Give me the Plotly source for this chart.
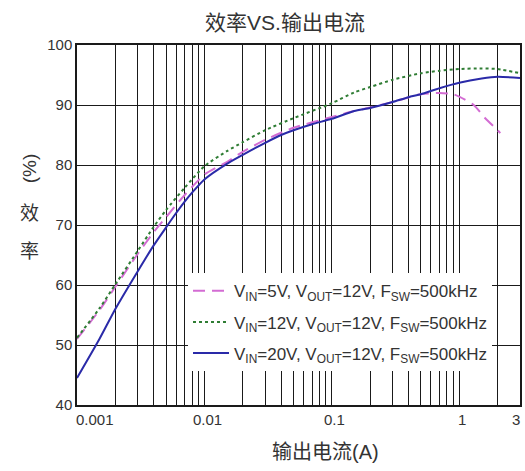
import plotly.graph_objects as go
import math

# ---- data ----
i_20v = [0.001, 0.0015, 0.002, 0.003, 0.004, 0.005, 0.006, 0.007, 0.008, 0.01, 0.015, 0.02, 0.03, 0.04,
         0.05, 0.07, 0.1, 0.15, 0.2, 0.3, 0.4, 0.5, 0.7, 1.0, 1.5, 2.0, 3.0]
eff_20v = [44.5, 51.0, 56.0, 62.3, 66.6, 69.6, 72.0, 73.9, 75.4, 77.6, 80.2, 81.7, 83.7, 85.0,
           85.8, 86.8, 87.7, 89.0, 89.5, 90.5, 91.3, 91.8, 92.8, 93.7, 94.4, 94.7, 94.5]

i_12v = [0.001, 0.0015, 0.002, 0.003, 0.004, 0.005, 0.007, 0.01, 0.015, 0.02, 0.03, 0.05, 0.1,
         0.15, 0.2, 0.3, 0.5, 0.7, 1.0, 1.5, 2.0, 3.0]
eff_12v = [51.2, 56.1, 60.1, 65.7, 69.7, 72.5, 76.2, 79.8, 82.3, 83.8, 85.8, 87.8, 90.3,
           92.1, 93.0, 94.2, 95.3, 95.7, 96.0, 96.1, 96.0, 95.3]

i_5v = [0.001, 0.0015, 0.002, 0.003, 0.004, 0.005, 0.007, 0.01, 0.015, 0.02, 0.03, 0.05, 0.1, 0.15, 0.2,
        0.3, 0.5, 0.7, 0.9, 1.0, 1.3, 1.6, 2.0, 2.1]
eff_5v = [51.0, 55.8, 59.7, 65.2, 68.8, 71.3, 75.0, 78.4, 80.5, 82.2, 84.2, 86.2, 88.0, 89.0, 89.6,
          90.5, 91.8, 92.0, 91.8, 91.4, 90.0, 87.8, 85.8, 85.3]

names = ["V<sub>IN</sub>=5V, V<sub>OUT</sub>=12V, F<sub>SW</sub>=500kHz",
         "V<sub>IN</sub>=12V, V<sub>OUT</sub>=12V, F<sub>SW</sub>=500kHz",
         "V<sub>IN</sub>=20V, V<sub>OUT</sub>=12V, F<sub>SW</sub>=500kHz"]

x_tick_vals = [0.001, 0.01, 0.1, 1, 3]
x_tick_text = ["0.001", "0.01", "0.1", "1", "3"]
y_tick_vals = [40, 50, 60, 70, 80, 90, 100]

title_text = "效率VS.输出电流"
x_title = "输出电流(A)"
y_title_parts = ["(%)", "效", "率"]

# ---- figure ----
FONT = "Liberation Sans, Arial, Noto Sans CJK SC, sans-serif"
fig = go.Figure()

fig.add_trace(go.Scatter(x=i_5v, y=eff_5v, mode="lines", name=names[0], legendgroup="a",
                         line=dict(color="#d36cd3", width=2, dash="12px,7px", shape="spline", smoothing=0.6)))
fig.add_trace(go.Scatter(x=i_12v, y=eff_12v, mode="lines", name=names[1], legendgroup="b",
                         line=dict(color="#2f7d34", width=2, dash="3px,3px", shape="spline", smoothing=0.6)))
fig.add_trace(go.Scatter(x=i_20v, y=eff_20v, mode="lines", name=names[2], legendgroup="c",
                         line=dict(color="#2a2aa8", width=2, shape="spline", smoothing=0.6)))

# vertical grid values: 1..9 of each decade
grid_x = []
for d in range(-3, 1):
    for m in range(1, 10):
        v = m * 10 ** d
        if v <= 3.0001:
            grid_x.append(v)

fig.update_xaxes(type="log", range=[math.log10(0.001), math.log10(3)],
                 tickvals=grid_x, showticklabels=False, ticks="",
                 showgrid=True, gridcolor="#1a1a1a", gridwidth=1.3,
                 showline=True, linecolor="#1a1a1a", linewidth=1.5, mirror=True, zeroline=False)
fig.update_yaxes(range=[40, 100], tickvals=y_tick_vals, ticks="",
                 showgrid=True, gridcolor="#1a1a1a", gridwidth=1.3,
                 showline=True, linecolor="#1a1a1a", linewidth=1.5, mirror=True, zeroline=False,
                 tickfont=dict(family=FONT, size=15, color="#333333"), automargin=False)

annotations = []
for v, t in zip(x_tick_vals, x_tick_text):
    anchor = "center"
    if v == x_tick_vals[0]:
        anchor = "left"
    elif v == x_tick_vals[-1]:
        anchor = "right"
    annotations.append(dict(x=math.log10(v), y=0, xref="x", yref="paper", text=t, showarrow=False,
                            xanchor=anchor, yanchor="top", yshift=-4,
                            xshift=(-3 if anchor == "left" else (2 if anchor == "right" else 3)),
                            font=dict(family=FONT, size=15, color="#333333")))

annotations.append(dict(x=0.562, y=-0.13, xref="paper", yref="paper", text=x_title, showarrow=False,
                        xanchor="center", yanchor="middle",
                        font=dict(family=FONT, size=20, color="#333333")))
y_pos = [0.658, 0.533, 0.425]
for txt, yp in zip(y_title_parts, y_pos):
    annotations.append(dict(x=-0.108, y=yp, xref="paper", yref="paper", text=txt, showarrow=False,
                            xanchor="center", yanchor="middle",
                            textangle=(-90 if txt == "(%)" else 0),
                            font=dict(family=FONT, size=19, color="#333333")))

fig.update_layout(
    width=525, height=471,
    margin=dict(l=77, r=5, t=45, b=66),
    paper_bgcolor="white", plot_bgcolor="white",
    title=dict(text=title_text, x=0.4695, xref="paper", y=0.951, yref="container",
               xanchor="center", yanchor="middle",
               font=dict(family=FONT, size=21, color="#333333")),
    legend=dict(x=0.2506, y=0.366, xanchor="left", yanchor="top", bgcolor="white",
                borderwidth=0, tracegroupgap=6, itemwidth=36,
                font=dict(family=FONT, size=17, color="#333333")),
    annotations=annotations,
    showlegend=True,
)

fig.write_html("out.html", config={"displayModeBar": False},
               post_script="document.body.style.margin='0';document.body.style.overflow='hidden';")
